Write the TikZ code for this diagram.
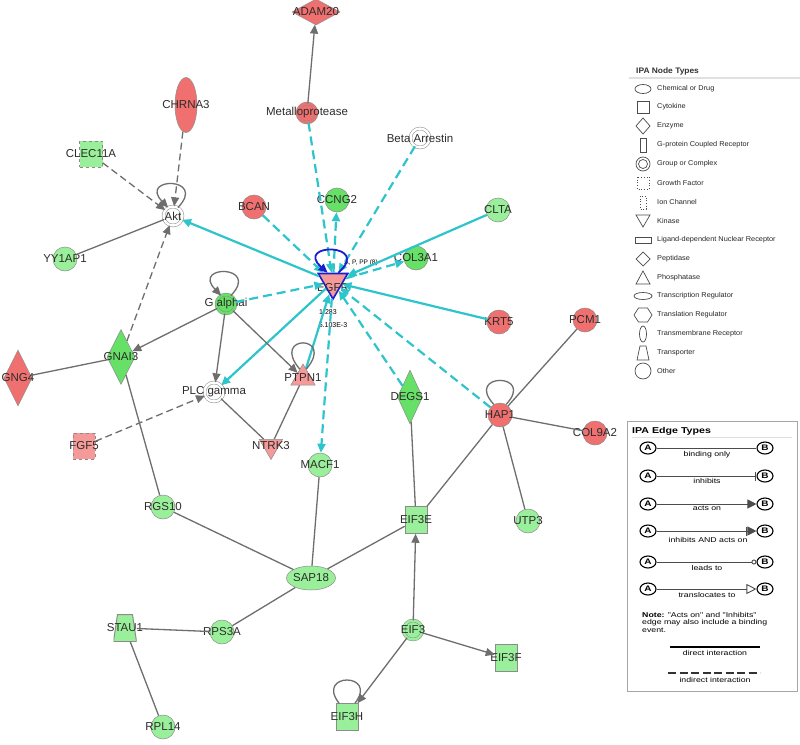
\documentclass[tikz,border=0pt]{standalone}
\usepackage{fontspec}
\setmainfont{Liberation Sans}
\newfontfamily\ntfont[FakeStretch=1.05]{Liberation Sans}
\newfontfamily\etfont[FakeStretch=1.25]{Liberation Sans}
\usetikzlibrary{shapes.geometric, arrows.meta}
\definecolor{redA}{HTML}{F07070}
\definecolor{redB}{HTML}{F59A98}
\definecolor{grnA}{HTML}{66E066}
\definecolor{grnB}{HTML}{9AF09A}
\definecolor{ipacyan}{HTML}{2EC4CC}
\definecolor{edgegray}{HTML}{6E6E6E}
\definecolor{egfrblue}{HTML}{1C1CD0}
\definecolor{lbltext}{HTML}{2C2C2C}

\begin{document}
\begin{tikzpicture}[x=1pt, y=-1pt, >={Triangle[length=9pt,width=8pt]},
		lbl/.style={text=lbltext, font=\fontsize{11.5}{12}\selectfont, inner sep=0pt},
		gene/.style={draw=black!45, line width=0.5pt, inner sep=0pt, label={[lbl]center:#1}},
		circ/.style={circle, minimum size=24},
		grp/.style={circle, minimum size=19, double=#1, double distance=2.4pt, fill=#1},
		tri/.style={regular polygon, regular polygon sides=3, inner sep=0pt},
		tr/.style={rectangle, minimum width=22, minimum height=27},
		cyn/.style={draw=ipacyan, line width=2.2pt},
		cyd/.style={cyn, dash pattern=on 9pt off 5pt},
		gry/.style={draw=edgegray, line width=1.3pt},
		gryd/.style={gry, dash pattern=on 7pt off 4pt},
		nttxt/.style={anchor=west, font=\ntfont\fontsize{7}{8}\selectfont, text=black!85, inner sep=0pt},
		nticon/.style={draw=black!70, line width=0.7pt},
		abox/.style={ellipse, draw=black, line width=1.1pt, minimum width=16, minimum height=12, inner sep=0pt, font=\etfont\bfseries\fontsize{8}{9}\selectfont},
		legline/.style={draw=black!70, line width=0.9pt},
		ettxt/.style={font=\etfont\fontsize{7}{8}\selectfont, inner sep=0pt}]
	
	\useasboundingbox[fill=white] (0,0) rectangle (800,744);
	
	% genes
	\node[gene=ADAM20, diamond, minimum width=48, minimum height=26, fill=redA] (adam20) at (316,12) {};
	\node[gene=Metalloprotease, grp=redA] (metallo) at (307,113) {};
	\node[gene=Beta Arrestin, grp=white] (barr) at (420,138) {};
	\node[gene=CHRNA3, ellipse, minimum width=22, minimum height=55, fill=redA] (chrna3) at (186,105) {};
	\node[gene=CLEC11A, rectangle, dashed, minimum width=23, minimum height=26, fill=grnB] (clec11a) at (91,154) {};
	\node[gene=Akt, grp=white] (akt) at (173,216) {};
	\node[gene=YY1AP1, circ, fill=grnB] (yy1ap1) at (65,259) {};
	\node[gene=BCAN, circ, fill=redA] (bcan) at (254,207) {};
	\node[gene=CCNG2, circ, fill=grnA] (ccng2) at (337,200) {};
	\node[gene=CLTA, circ, fill=grnB] (clta) at (498,210) {};
	\node[gene=COL3A1, circ, fill=grnA] (col3a1) at (416,258) {};
	\node[tri, shape border rotate=180, minimum size=34, fill=redB, draw=egfrblue, line width=1.6pt,
		label={[lbl,yshift=-6pt]center:EGFR}] (egfr) at (333,282) {};
	\node[gene=G alphai, grp=grnA] (galphai) at (226,304) {};
	\node[gene=GNAI3, diamond, minimum width=28, minimum height=55, fill=grnA] (gnai3) at (121,357) {};
	\node[gene=GNG4, diamond, minimum width=28, minimum height=56, fill=redA] (gng4) at (18,378) {};
	\node[gene=PLC gamma, grp=white] (plcg) at (214,392) {};
	\node[gene=PTPN1, tri, minimum size=28, fill=redB] (ptpn1) at (303,378) {};
	\node[gene=KRT5, circ, fill=redA] (krt5) at (499,322) {};
	\node[gene=PCM1, circ, fill=redA] (pcm1) at (585,320) {};
	\node[gene=DEGS1, diamond, minimum width=25, minimum height=54, fill=grnA] (degs1) at (410,397) {};
	\node[gene=HAP1, circ, fill=redA] (hap1) at (500,415) {};
	\node[gene=COL9A2, circ, fill=redA] (col9a2) at (595,433) {};
	\node[gene=FGF5, rectangle, dashed, minimum width=22, minimum height=26, fill=redB] (fgf5) at (84,446) {};
	\node[gene=NTRK3, tri, shape border rotate=180, minimum size=27, fill=redB] (ntrk3) at (271,446) {};
	\node[gene=MACF1, circ, fill=grnB] (macf1) at (320,465) {};
	\node[gene=RGS10, circ, fill=grnB] (rgs10) at (163,507) {};
	\node[gene=EIF3E, tr, fill=grnB] (eif3e) at (416,520) {};
	\node[gene=UTP3, circ, fill=grnB] (utp3) at (528,521) {};
	\node[gene=SAP18, ellipse, minimum width=49, minimum height=24, fill=grnB] (sap18) at (311,578) {};
	\node[gene=RPS3A, circ, fill=grnB] (rps3a) at (222,632) {};
	\node[gene=STAU1, rectangle, draw=none, minimum width=23, minimum height=27,
		path picture={\draw[fill=grnB, draw=black!45, line width=1pt]
			([xshift=4pt]path picture bounding box.north west) -- ([xshift=-4pt]path picture bounding box.north east)
			-- (path picture bounding box.south east) -- (path picture bounding box.south west) -- cycle;}] (stau1) at (125,628) {};
	\node[gene=EIF3, grp=grnB] (eif3) at (413,630) {};
	\node[gene=EIF3F, tr, fill=grnB] (eif3f) at (506,658) {};
	\node[gene=EIF3H, tr, fill=grnB] (eif3h) at (347,717) {};
	\node[gene=RPL14, circ, fill=grnB] (rpl14) at (163,727) {};
	
	\node[font=\fontsize{6.5}{7}\selectfont, inner sep=0pt] (egfrmod) at (361,263) {A, P, PP (8)};
	\node[font=\fontsize{7}{8}\selectfont, inner sep=0pt] (egfrv1) at (328,312) {1.283};
	\node[font=\fontsize{7}{8}\selectfont, inner sep=0pt] (egfrv2) at (333,325) {5.103E-3};
	
	% EGFR interactions
	\draw[cyn,->] (egfr) -- (akt);
	\draw[cyd,->] (metallo) -- (egfr);
	\draw[cyd,->] (barr) -- (egfr);
	\draw[cyd,->] (bcan) -- (egfr);
	\draw[cyd,->] (egfr) -- (ccng2);
	\draw[cyn,->] (clta) -- (egfr);
	\draw[cyd,->] (egfr) -- (col3a1);
	\draw[cyn,->] (krt5) -- (egfr);
	\draw[cyd,->] (hap1) -- (egfr);
	\draw[cyd,->] (degs1) -- (egfr);
	\draw[cyd,->] (egfr) -- (macf1);
	\draw[cyn,->] (ptpn1) -- (egfr);
	\draw[cyn,->] (egfr) -- (plcg);
	\draw[cyd,->] (galphai) -- (egfr);
	\draw[egfrblue, line width=1.8pt, ->] (egfr.60) .. controls +(34pt,30pt) and +(-34pt,30pt) .. (egfr.120);
	
	% other interactions
	\draw[gry,->] (metallo) -- (adam20);
	\draw[gryd,->] (chrna3) -- (akt);
	\draw[gryd,->] (clec11a) -- (akt);
	\draw[gry] (yy1ap1) -- (akt);
	\draw[gryd,->] (gnai3) -- (akt);
	\draw[gry,->] (galphai) -- (gnai3);
	\draw[gry,->] (galphai) -- (plcg);
	\draw[gry,->] (galphai) -- (ptpn1);
	\draw[gry] (gng4) -- (gnai3);
	\draw[gry] (gnai3) -- (rgs10);
	\draw[gryd,->] (fgf5) -- (plcg);
	\draw[gry] (plcg) -- (ntrk3);
	\draw[gry] (ptpn1) -- (ntrk3);
	\draw[gry] (macf1) -- (sap18);
	\draw[gry] (rgs10) -- (sap18);
	\draw[gry] (sap18) -- (eif3e);
	\draw[gry] (sap18) -- (rps3a);
	\draw[gry] (rps3a) -- (stau1);
	\draw[gry] (stau1) -- (rpl14);
	\draw[gry] (degs1) -- (eif3e);
	\draw[gry] (hap1) -- (eif3e);
	\draw[gry] (hap1) -- (pcm1);
	\draw[gry] (hap1) -- (col9a2);
	\draw[gry] (hap1) -- (utp3);
	\draw[gry,->] (eif3) -- (eif3e);
	\draw[gry,->] (eif3) -- (eif3f);
	\draw[gry,->] (eif3) -- (eif3h);
	
	% self loops
	\draw[gry,->] (akt.60) .. controls +(30pt,31pt) and +(-30pt,31pt) .. (akt.120);
	\draw[gry,->] (galphai.60) .. controls +(30pt,31pt) and +(-30pt,31pt) .. (galphai.120);
	\draw[gry] (ptpn1.70) .. controls +(30pt,35pt) and +(-30pt,35pt) .. (ptpn1.110);
	\draw[gry] (hap1.60) .. controls +(30pt,32pt) and +(-30pt,32pt) .. (hap1.120);
	\draw[gry] (eif3h.60) .. controls +(24pt,31pt) and +(-24pt,31pt) .. (eif3h.120);
	
	% legend: node types
	\node[anchor=base west, font=\ntfont\bfseries\fontsize{8}{9}\selectfont, text=black!80, inner sep=0pt] (nthead) at (636,73) {IPA Node Types};
	\draw[black!12, line width=1.5pt] (629,78) -- (800,78);
	\foreach \y/\t in {89/Chemical or Drug, 107/Cytokine, 126/Enzyme, 145/G-protein Coupled Receptor,
		164/Group or Complex, 183/Growth Factor, 202/Ion Channel, 221/Kinase,
		240/Ligand-dependent Nuclear Receptor, 259/Peptidase, 278/Phosphatase,
		296/Transcription Regulator, 315/Translation Regulator, 334/Transmembrane Receptor,
		353/Transporter, 371/Other}
	\node[nttxt] (nt\y) at (657,\y) {\t};
	\draw[nticon] (643,89) ellipse [x radius=8, y radius=4.5];
	\draw[nticon] (637,101) rectangle (649,113);
	\draw[nticon] (643,118) -- (650,126) -- (643,134) -- (636,126) -- cycle;
	\draw[nticon] (640,138) rectangle (646,152);
	\draw[nticon] (643,164) circle [radius=7];
	\draw[nticon] (643,164) circle [radius=4.5];
	\draw[nticon, dotted] (637,177) rectangle (649,189);
	\draw[nticon, dotted] (640,196) rectangle (646,209);
	\draw[nticon] (636,215) -- (650,215) -- (643,227) -- cycle;
	\draw[nticon] (635,237) rectangle (651,243);
	\draw[nticon] (643,252) -- (650,259) -- (643,266) -- (636,259) -- cycle;
	\draw[nticon] (643,271) -- (650,284) -- (636,284) -- cycle;
	\draw[nticon] (643,296) ellipse [x radius=9, y radius=3.5];
	\draw[nticon] (634,315) -- (638.5,308) -- (647.5,308) -- (652,315) -- (647.5,322) -- (638.5,322) -- cycle;
	\draw[nticon] (643,334) ellipse [x radius=3.5, y radius=8];
	\draw[nticon] (640,346) -- (646,346) -- (649,360) -- (637,360) -- cycle;
	\draw[nticon] (643,371) circle [radius=8];
	
	% legend: edge types
	\draw[black!35, line width=0.8pt] (627,421) rectangle (797,691);
	\node[anchor=base west, font=\etfont\bfseries\fontsize{8.5}{10}\selectfont, inner sep=0pt] (ethead) at (632,433) {IPA Edge Types};
	\draw[black!12, line width=1pt] (632,437) -- (792,437);
	
	\node[abox] (a1) at (648,448) {A};
	\node[abox] (b1) at (765,448) {B};
	\draw[legline] (a1) -- (b1);
	\node[ettxt] (t1) at (707,455) {binding only};
	
	\node[abox] (a2) at (648,476) {A};
	\node[abox] (b2) at (765,476) {B};
	\draw[legline, -{Bar[width=9pt, line width=1pt]}] (a2) -- (b2);
	\node[ettxt] (t2) at (707,481) {inhibits};
	
	\node[abox] (a3) at (648,504) {A};
	\node[abox] (b3) at (765,504) {B};
	\draw[legline, -{Triangle[length=9pt, width=9pt]}] (a3) -- (b3);
	\node[ettxt] (t3) at (707,508) {acts on};
	
	\node[abox] (a4) at (648,531) {A};
	\node[abox] (b4) at (765,531) {B};
	\draw[legline, -{Bar[width=9pt, line width=1pt] Triangle[length=9pt, width=9pt]}] (a4) -- (b4);
	\node[ettxt] (t4) at (708,540) {inhibits AND acts on};
	
	\node[abox] (a5) at (648,562) {A};
	\node[abox] (b5) at (765,562) {B};
	\draw[legline, -{Circle[open, length=5pt, width=5pt]}] (a5) -- (b5);
	\node[ettxt] (t5) at (707,568) {leads to};
	
	\node[abox] (a6) at (648,589) {A};
	\node[abox] (b6) at (765,589) {B};
	\draw[legline, -{Triangle[open, length=10pt, width=10pt]}] (a6) -- (b6);
	\node[ettxt] (t6) at (707,595) {translocates to};
	
	\node[ettxt, anchor=base west] (note1) at (642,617) {\textbf{Note:} "Acts on" and "Inhibits"};
	\node[ettxt, anchor=base west] (note2) at (642,624.5) {edge may also include a binding};
	\node[ettxt, anchor=base west] (note3) at (642,632) {event.};
	
	\coordinate (d1) at (670,647);
	\coordinate (d2) at (760,647);
	\draw[black, line width=1.5pt] (d1) -- (d2);
	\node[ettxt] (direct) at (715,653) {direct interaction};
	\coordinate (i1) at (668,673);
	\coordinate (i2) at (760,673);
	\draw[black!80, line width=2.2pt, dash pattern=on 8pt off 3.5pt] (i1) -- (i2);
	\node[ettxt] (indirect) at (715,679.5) {indirect interaction};
	
\end{tikzpicture}
\end{document}
